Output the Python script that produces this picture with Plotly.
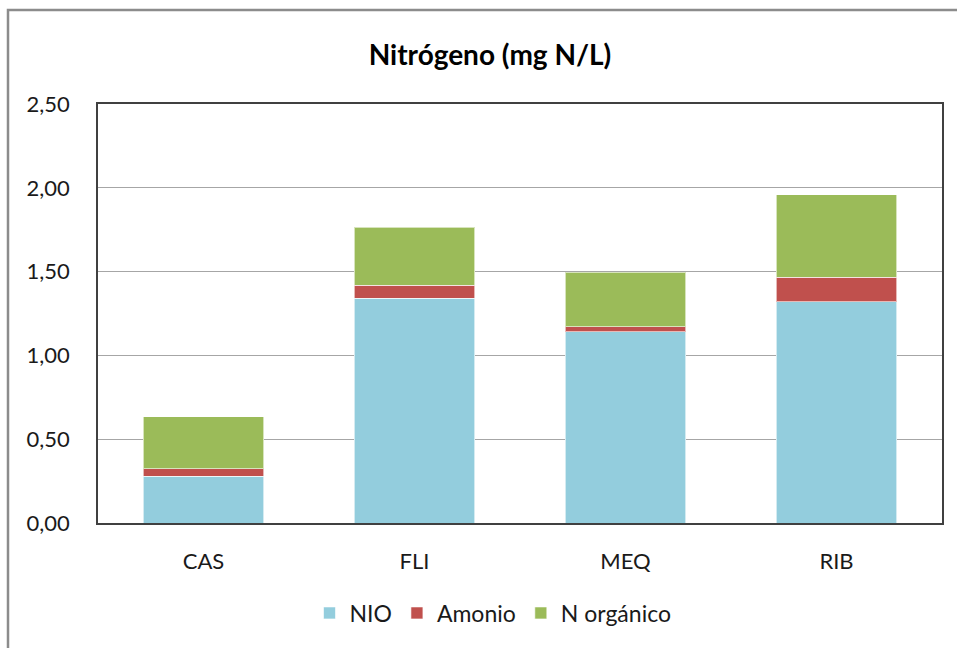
import plotly.graph_objects as go

# Sampling sites and nitrogen fractions (mg N/L)
sites = ["CAS", "FLI", "MEQ", "RIB"]
nio = [0.28, 1.34, 1.14, 1.32]
amonio = [0.045, 0.08, 0.03, 0.145]
n_organico = [0.31, 0.345, 0.325, 0.495]

y_ticks = [0.0, 0.5, 1.0, 1.5, 2.0, 2.5]

font_family = "Lato, Carlito, Calibri, sans-serif"

fig = go.Figure()
fig.add_bar(x=sites, y=nio, name="NIO", marker_color="#93CDDD",
            marker_line=dict(color="rgba(255,255,255,0.6)", width=1))
fig.add_bar(x=sites, y=amonio, name="Amonio", marker_color="#C0504D",
            marker_line=dict(color="rgba(255,255,255,0.6)", width=1))
fig.add_bar(x=sites, y=n_organico, name="N orgánico", marker_color="#9BBB59",
            marker_line=dict(color="rgba(255,255,255,0.6)", width=1))

# Outer chart frame (extends past the right and bottom window edges)
W, H = 957, 648
L, R, T, B = 98, 15, 104, 125
pw, ph = W - L - R, H - T - B
fig.add_shape(type="rect", xref="paper", yref="paper",
              x0=(8 - L) / pw, x1=(W + 5 - L) / pw,
              y0=-(H + 5 - (H - B)) / ph, y1=1 + (T - 10) / ph,
              line=dict(color="#8C8C8C", width=2.5), fillcolor="rgba(0,0,0,0)",
              layer="below")

fig.update_layout(
    width=W, height=H,
    margin=dict(l=L, r=R, t=T, b=B, autoexpand=False),
    barmode="stack",
    bargap=0.427,
    separators=",.",
    paper_bgcolor="white",
    plot_bgcolor="white",
    font=dict(family=font_family, size=22, color="#1a1a1a"),
    title=dict(text="<b>Nitrógeno (mg N/L)</b>", x=(490 - L) / pw, xanchor="center",
               xref="paper", y=1 - 55 / H, yanchor="middle",
               font=dict(family=font_family, size=28, color="#000000")),
    legend=dict(orientation="h", x=(493 - L) / pw, xanchor="center", xref="paper",
                y=-(613 - (H - B)) / ph, yanchor="middle",
                font=dict(size=23), itemwidth=30, traceorder="normal"),
    showlegend=True,
)

fig.update_yaxes(
    range=[0, 2.5], tickvals=y_ticks, tickformat=".2f",
    showgrid=True, gridcolor="#A6A6A6", gridwidth=1.2,
    showline=True, linecolor="#404040", linewidth=1.5, mirror=True,
    ticks="", ticklabelstandoff=22, zeroline=False,
)
fig.update_xaxes(
    showline=True, linecolor="#404040", linewidth=1.5, mirror=True,
    ticks="", ticklabelstandoff=18,
)

fig.write_html("out.html")
